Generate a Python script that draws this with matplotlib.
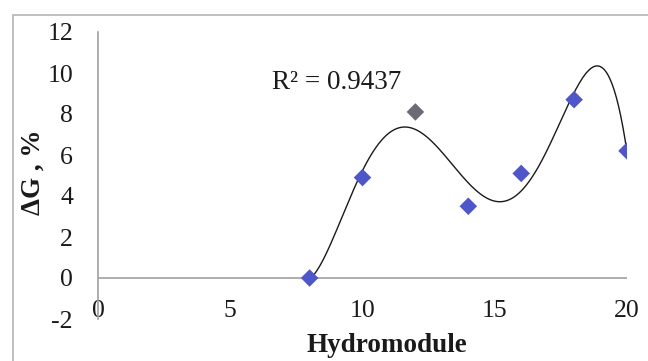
import numpy as np
import matplotlib
matplotlib.use("Agg")
import matplotlib.pyplot as plt
from matplotlib.patches import Rectangle

# Data
hydromodule = [8, 10, 12, 14, 16, 18, 20]
delta_g = [0.0, 4.9, 8.1, 3.5, 5.1, 8.7, 6.2]
point_colors = ["#4f56c9", "#4f56c9", "#6a6a78", "#4f56c9", "#4f56c9", "#4f56c9", "#4f56c9"]
x_ticks = [0, 5, 10, 15, 20]
y_ticks = [-2, 0, 2, 4, 6, 8, 10, 12]
r2_label = "R² = 0.9437"
x_title = "Hydromodule"
y_title = "ΔG , %"
poly_order = 5

plt.rcParams['font.family'] = ['Liberation Serif', 'DejaVu Serif']
plt.rcParams['axes.unicode_minus'] = False

W, H = 648, 361
fig = plt.figure(figsize=(6.48, 3.61), dpi=100)
ax = fig.add_axes([98/W, 1 - 319/H, (627 - 98)/W, (319 - 32)/H])

# chart-area frame
fig.patches.append(Rectangle((13/W, -0.05), 1.1, 1 - 15/H + 0.05, transform=fig.transFigure,
                             fill=False, edgecolor="#b4b4b4", linewidth=1.2))

# trendline (polynomial fit)
coef = np.polyfit(hydromodule, delta_g, poly_order)
xs = np.linspace(min(hydromodule), max(hydromodule), 300)
ax.plot(xs, np.polyval(coef, xs), color="#1a1a1a", linewidth=1.0, zorder=3)

ax.axhline(0, color="#a0a0a0", linewidth=1.2, zorder=1)
ax.scatter(hydromodule, delta_g, marker="D", s=80, c=point_colors, zorder=4, edgecolors="none")

ax.set_xlim(0, 20)
ax.set_ylim(-2, 12)
ax.set_xticks(x_ticks)
ax.set_yticks(y_ticks)
for s in ["top", "right", "bottom"]:
    ax.spines[s].set_visible(False)
ax.spines["left"].set_color("#a0a0a0")
ax.spines["left"].set_linewidth(1.2)
ax.tick_params(axis="both", length=0, labelsize=18.5, colors="#1a1a1a")
ax.tick_params(axis="x", pad=-14)
ax.tick_params(axis="y", pad=18)

ax.text(6.58, 9.56, r2_label, fontsize=19.5, va="center", ha="left", color="#1a1a1a")
fig.text(387/W, 1 - 346/H, x_title, fontsize=19.5, fontweight="bold", ha="center", va="center",
         color="#1a1a1a")
fig.text(33/W, 1 - 172/H, y_title, fontsize=19.5, fontweight="bold", ha="center", va="center",
         rotation=90, color="#1a1a1a")

fig.savefig("out.png", dpi=100)
